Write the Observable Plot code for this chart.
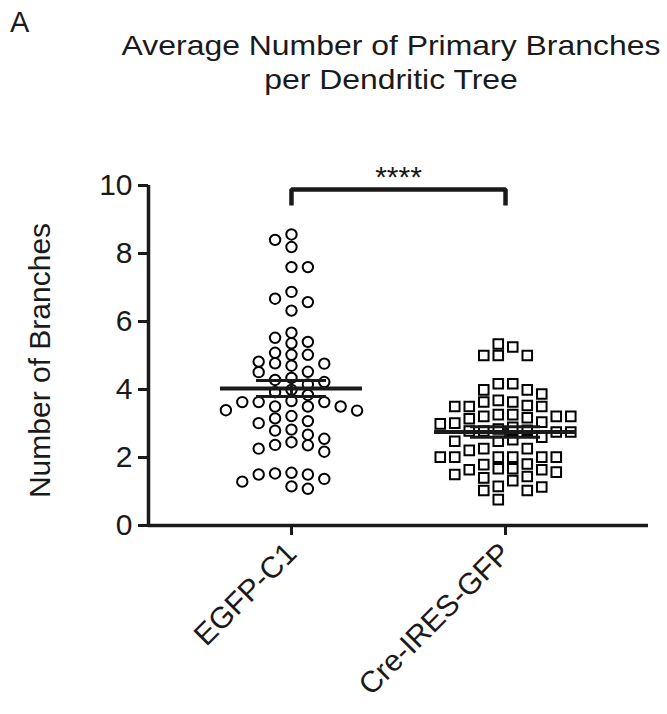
<!DOCTYPE html>
<html>
<head>
<meta charset="utf-8">
<script src="https://cdn.jsdelivr.net/npm/d3@7"></script>
<script src="https://cdn.jsdelivr.net/npm/@observablehq/plot@0.6"></script>
<style>
  body { margin: 0; background: #fff; }
  #wrap { position: relative; width: 667px; height: 714px; overflow: hidden; font-family: "Liberation Sans", Arial, Helvetica, sans-serif; color: #1a1a1a; }
  #panel { position: absolute; left: 10px; top: 8px; font-size: 29px; line-height: 29px; }
  #title { position: absolute; left: 116px; top: 28px; width: 550px; text-align: center; font-size: 28.5px; line-height: 34px; transform: scaleX(1.12); transform-origin: 50% 50%; }
  #chart { position: absolute; left: 0; top: 0; }
</style>
</head>
<body>
<div id="wrap">
  <div id="chart"></div>
  <div id="panel">A</div>
  <div id="title">Average Number of Primary Branches<br>per Dendritic Tree</div>
</div>
<script>
// ---- data ----
const groups = ["EGFP-C1", "Cre-IRES-GFP"];
const egfpValues = [
  8.56, 8.40, 8.19, 7.60, 7.60, 6.87, 6.67, 6.57, 6.32,
  5.67, 5.52, 5.40, 5.36, 5.08, 5.02, 5.02, 4.82, 4.77, 4.76, 4.70,
  4.52, 4.51, 4.34, 4.28, 4.22, 4.15, 3.99, 3.92, 3.84,
  3.66, 3.63, 3.63, 3.63, 3.50, 3.50, 3.50, 3.39, 3.38, 3.22, 3.15, 3.07, 3.01,
  2.82, 2.79, 2.67, 2.55, 2.45, 2.37, 2.36, 2.26, 2.17,
  1.55, 1.53, 1.50, 1.50, 1.37, 1.29, 1.15, 1.08
];
const creValues = [
  5.34, 5.25, 5.00, 5.00, 5.00,
  4.17, 4.17, 3.99, 3.99, 3.87,
  3.68, 3.63, 3.63, 3.53, 3.50, 3.50, 3.50,
  3.26, 3.26, 3.21, 3.21, 3.21, 3.17, 3.14, 3.04, 3.01, 2.99,
  2.89, 2.84, 2.80, 2.78, 2.78, 2.75, 2.75, 2.60, 2.52, 2.48, 2.48,
  2.26, 2.26, 2.21, 2.01, 2.01, 2.01, 2.01, 2.01, 2.01,
  1.81, 1.79, 1.67, 1.67, 1.64, 1.64, 1.57, 1.50, 1.44, 1.40, 1.32,
  1.15, 1.13, 1.03, 1.03, 0.76
];
const means = [4.03, 2.75];
const sems = [0.235, 0.155];
const yTicks = [0, 2, 4, 6, 8, 10];
const sigLabel = "****";

// ---- layout ----
const W = 667, H = 714, mL = 148, mR = 19, mT = 185, mB = 189;
const xPad = 0.668;
const yMax = 10;
const pxPerY = (H - mT - mB) / yMax;
const pxPerX = (W - mL - mR) / (1 + 2 * xPad);
const font = "Liberation Sans, Arial, Helvetica, sans-serif";

// scatter-dot layout: place points (highest first) in the column nearest the centre
function swarm(values, center, spacingPx, gapPx, half) {
  const order = values.map((v, i) => ({v, i})).sort((a, b) => b.v - a.v);
  const cols = new Map();
  let left = 0, right = 0;
  const out = [];
  for (const p of order) {
    const ypx = p.v * pxPerY;
    let chosen;
    for (let k = 0; chosen === undefined; k++) {
      let cands = half ? [-(k + 0.5), k + 0.5] : (k === 0 ? [0] : [-k, k]);
      if (cands.length === 2 && left > right) cands = [cands[1], cands[0]];
      chosen = cands.find(c => !(cols.get(c) || []).some(y => Math.abs(y - ypx) < gapPx));
    }
    if (!cols.has(chosen)) cols.set(chosen, []);
    cols.get(chosen).push(ypx);
    if (chosen < 0) left++; else if (chosen > 0) right++;
    out.push({x: center + chosen * spacingPx / pxPerX, v: p.v});
  }
  return out;
}

const egfpPts = swarm(egfpValues, 1, 16.4, 10.5, false);
const crePts = swarm(creValues, 2, 14.5, 11.5, true);
const summary = groups.map((g, i) => ({g: i + 1, mean: means[i], sem: sems[i]}));
const meanHalf = 71 / pxPerX, capHalf = 35 / pxPerX;
const bracketY = 9.88, bracketLeg = 0.47;
const bracket = [
  {x: 1, y: bracketY - bracketLeg}, {x: 1, y: bracketY},
  {x: 2, y: bracketY}, {x: 2, y: bracketY - bracketLeg}
];

const chart = Plot.plot({
  width: W, height: H,
  marginLeft: mL, marginRight: mR, marginTop: mT, marginBottom: mB,
  style: {fontFamily: font, fontSize: "30px", color: "#1a1a1a", background: "transparent"},
  x: {domain: [1 - xPad, 2 + xPad]},
  y: {domain: [0, yMax]},
  marks: [
    Plot.axisY({ticks: yTicks, tickSize: 10, tickPadding: 6, tickFormat: d => d, fontSize: 30, strokeWidth: 3, label: null}),
    Plot.axisX({ticks: [1, 2], tickSize: 10, tickPadding: 13, tickRotate: -45, tickFormat: d => groups[d - 1], fontSize: 30, strokeWidth: 3, label: null}),
    Plot.ruleY([0], {strokeWidth: 3.5}),
    Plot.ruleX([1 - xPad], {y1: 0, y2: yMax, strokeWidth: 3.5}),
    Plot.dot(egfpPts, {x: "x", y: "v", r: 5.2, stroke: "black", fill: "white", strokeWidth: 2}),
    Plot.dot(crePts, {x: "x", y: "v", r: 5.4, symbol: "square", stroke: "black", fill: "white", strokeWidth: 2}),
    Plot.ruleY(summary, {y: "mean", x1: d => d.g - meanHalf, x2: d => d.g + meanHalf, strokeWidth: 4}),
    Plot.ruleY(summary, {y: d => d.mean + d.sem, x1: d => d.g - capHalf, x2: d => d.g + capHalf, strokeWidth: 3}),
    Plot.ruleY(summary, {y: d => d.mean - d.sem, x1: d => d.g - capHalf, x2: d => d.g + capHalf, strokeWidth: 3}),
    Plot.ruleX(summary, {x: "g", y1: d => d.mean - d.sem, y2: d => d.mean + d.sem, strokeWidth: 3}),
    Plot.line(bracket, {x: "x", y: "y", strokeWidth: 4.5, strokeLinejoin: "miter", strokeLinecap: "butt"}),
    Plot.text([sigLabel], {x: 1.5, y: bracketY, lineAnchor: "bottom", dy: -3, fontSize: 30}),
    Plot.text(["Number of Branches"], {frameAnchor: "left", textAnchor: "middle", rotate: -90, dx: -108, dy: 5, fontSize: 30})
  ]
});
document.getElementById("chart").appendChild(chart);
</script>
</body>
</html>
